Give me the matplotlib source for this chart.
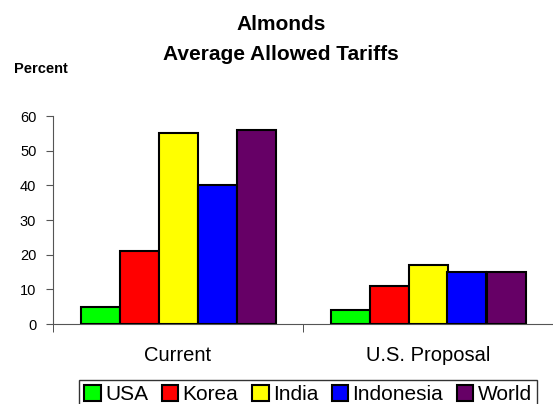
import matplotlib
matplotlib.use("Agg")
import matplotlib.pyplot as plt
import numpy as np

categories = ["Current", "U.S. Proposal"]
series = ["USA", "Korea", "India", "Indonesia", "World"]
values = {
    "USA": [5, 4],
    "Korea": [21, 11],
    "India": [55, 17],
    "Indonesia": [40, 15],
    "World": [56, 15],
}
colors = ["#00FF00", "#FF0000", "#FFFF00", "#0000FF", "#660066"]
yticks = [0, 10, 20, 30, 40, 50, 60]

plt.rcParams['font.family'] = ['Liberation Sans', 'DejaVu Sans']

fig = plt.figure(figsize=(5.53, 4.04), dpi=100)
ax = fig.add_axes([53/553, 1-324/404, 1-53/553, (324-116)/404])

x = np.arange(len(categories))
w = 0.156
for i, s in enumerate(series):
    ax.bar(x + (i - 2) * w, values[s], width=w, color=colors[i],
           edgecolor='black', linewidth=1.5, label=s, zorder=3)

ax.set_xlim(-0.5, 1.5)
ax.set_ylim(0, 60)
ax.set_yticks(yticks)
ax.set_xticks(x)
ax.set_xticklabels(categories, fontsize=14.5)
ax.set_xticks([-0.5, 0.5, 1.5], minor=True)
ax.tick_params(axis='x', which='major', length=0, pad=16)
ax.tick_params(axis='x', which='minor', length=6, direction='out', color='#333333')
ax.tick_params(axis='y', length=5, direction='out', labelsize=10.5, pad=7, color='#555555')

for side in ['top', 'right']:
    ax.spines[side].set_visible(False)
ax.spines['left'].set_color('#555555')
ax.spines['bottom'].set_color('#555555')
ax.spines['left'].set_bounds(0, 60)

fig.text(0.508, 1-25/404, "Almonds", ha='center', va='center', fontsize=15, fontweight='bold')
fig.text(0.508, 1-55/404, "Average Allowed Tariffs", ha='center', va='center', fontsize=15, fontweight='bold')
fig.text(14/553, 1-69/404, "Percent", ha='left', va='center', fontsize=10.5, fontweight='bold')

leg = fig.legend(loc='upper center', bbox_to_anchor=(308/553, 1-380/404), ncol=5,
                 fontsize=15, frameon=True, fancybox=False, shadow=False,
                 handlelength=0.8, handleheight=0.8, handletextpad=0.2,
                 columnspacing=0.65, borderpad=0.25, borderaxespad=0)
leg.get_frame().set_edgecolor('black')
leg.get_frame().set_linewidth(1.0)

fig.savefig("out.png", dpi=100)
